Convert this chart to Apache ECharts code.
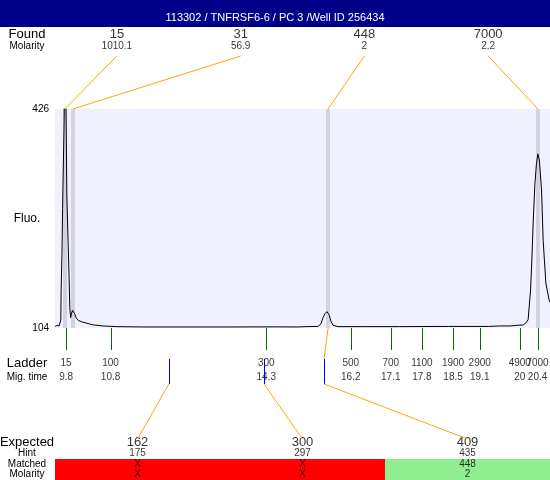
<!DOCTYPE html>
<html>
<head>
<meta charset="utf-8">
<script src="https://cdn.jsdelivr.net/npm/echarts@6/dist/echarts.min.js"></script>
<style>
html, body { margin: 0; padding: 0; background: #fff; }
#chart { width: 550px; height: 480px; }
</style>
</head>
<body>
<div id="chart"></div>
<script>
var titleText = '113302 / TNFRSF6-6 / PC 3 /Well ID 256434';

// electropherogram trace (migration time, fluorescence)
var traceTime = [9.553, 9.598, 9.643, 9.676, 9.681, 9.688, 9.706, 9.721, 9.739, 9.755, 9.772, 9.785,
  9.800, 9.816, 9.845, 9.867, 9.883, 9.901, 9.924, 9.946, 9.969, 9.991, 10.025, 10.076, 10.153,
  10.265, 10.413, 10.631, 10.939, 11.5, 12.5, 13.5, 14.5, 15.0, 15.2, 15.463, 15.530, 15.575,
  15.620, 15.665, 15.710, 15.755, 15.800, 15.912, 16.5, 17.3, 18.4, 19.3, 19.55, 19.777, 19.957,
  20.076, 20.137, 20.188, 20.243, 20.272, 20.301, 20.339, 20.373, 20.407, 20.440, 20.490, 20.526,
  20.587, 20.661, 20.68];
var traceFluo = [106.3, 107.8, 107.0, 106.3, 115.8, 160, 211, 280, 348, 405, 520, 520,
  413, 300, 230, 178, 134, 119, 126, 130, 129, 125, 119, 115, 113,
  111, 108.5, 107, 106, 105.5, 105.5, 105.5, 105.7, 105.5, 106, 106.3, 110, 119,
  125, 128, 124, 114, 108, 106, 106, 106, 106.3, 106.3, 107, 107, 108,
  108.5, 111.4, 116, 160, 204, 258, 314, 344, 360, 351, 307, 233,
  170, 145, 142];

var fluoTicks = [104, 426];

var foundSize = ['15', '31', '448', '7000'];
var foundMolarity = ['1010.1', '56.9', '2', '2.2'];
var foundTime = [9.77, 9.95, 15.69, 20.41];

var ladderSize = ['15', '100', '300', '500', '700', '1100', '1900', '2900', '4900', '7000'];
var ladderTime = [9.8, 10.8, 14.3, 16.2, 17.1, 17.8, 18.5, 19.1, 20, 20.4];

var expectedSize = ['162', '300', '409'];
var hintSize = ['175', '297', '435'];
var hintTime = [12.11, 14.25, 15.6];
var matchedSize = ['X', 'X', '448'];
var matchedMolarity = ['X', 'X', '2'];
var matchedFound = [-1, -1, 2];   // index of the found peak, -1 = none

var font = "'Liberation Sans', Arial, sans-serif";
var tMin = 9.55, tMax = 20.68;
var yMin = fluoTicks[0], yMax = fluoTicks[1];

var chart = echarts.init(document.getElementById('chart'));

function textSeries(xi, yi, xs, row, labels, size) {
  return {
    type: 'scatter', xAxisIndex: xi, yAxisIndex: yi, silent: true, z: 3,
    symbolSize: 1, itemStyle: { color: 'rgba(0,0,0,0)' },
    data: labels.map(function (s, i) { return [xs ? xs[i] : i, row]; }),
    label: {
      show: true, position: 'inside', color: '#000', fontSize: size, fontFamily: font,
      formatter: function (p) { return labels[p.dataIndex]; }
    }
  };
}

function vlines(xi, yi, times, y0, y1, color) {
  return {
    type: 'custom', xAxisIndex: xi, yAxisIndex: yi, silent: true, z: 4,
    data: times.map(function (t) { return [t, y0]; }),
    renderItem: function (params, api) {
      var a = api.coord([api.value(0), y0]);
      var b = api.coord([api.value(0), y1]);
      var x = Math.round(a[0]) + 0.5;
      return { type: 'line', shape: { x1: x, y1: a[1], x2: x, y2: b[1] }, style: { stroke: color, lineWidth: 1 } };
    }
  };
}

function headerAxis(grid, names, bigIndex) {
  return {
    gridIndex: grid, type: 'category', data: names, position: 'left',
    axisLine: { show: false }, axisTick: { show: false }, splitLine: { show: false },
    axisLabel: {
      interval: 0, margin: 28, align: 'center', color: '#000',
      formatter: function (v, i) { return (i === bigIndex ? '{big|' : '{small|') + v + '}'; },
      rich: { big: { fontSize: 13, fontFamily: font }, small: { fontSize: 10, fontFamily: font } }
    }
  };
}

function plainGrid(top, height) {
  return { left: 55, right: 0, top: top, height: height, containLabel: false, outerBoundsMode: 'none' };
}

var titleBar = { type: 'rect', shape: { x: 0, y: 0, width: 550, height: 27 }, style: { fill: '#000088' }, silent: true };

var mainGrid = plainGrid(109, 219);
mainGrid.show = true;
mainGrid.backgroundColor = '#F0F0FF';
mainGrid.borderWidth = 0;

chart.setOption({
  animation: false,
  textStyle: { fontFamily: font },
  title: {
    text: titleText, left: 'center', top: 7,
    textStyle: { color: '#fff', fontSize: 11, fontWeight: 'normal', fontFamily: font }
  },
  graphic: { elements: [titleBar] },
  grid: [mainGrid, plainGrid(28, 24), plainGrid(328, 22), plainGrid(356, 28), plainGrid(437, 43)],
  xAxis: [
    { gridIndex: 0, type: 'value', min: tMin, max: tMax, show: false },
    { gridIndex: 1, type: 'category', data: foundSize, show: false },
    { gridIndex: 2, type: 'value', min: tMin, max: tMax, show: false },
    { gridIndex: 3, type: 'value', min: tMin, max: tMax, show: false },
    { gridIndex: 4, type: 'category', data: expectedSize, show: false }
  ],
  yAxis: [
    {
      gridIndex: 0, type: 'value', min: yMin, max: yMax, interval: yMax - yMin, position: 'left',
      axisLine: { show: false }, axisTick: { show: false }, splitLine: { show: false },
      axisLabel: { color: '#000', fontSize: 10, margin: 6 },
      name: 'Fluo.', nameLocation: 'middle', nameRotate: 0, nameGap: 28, nameMoveOverlap: false,
      nameTextStyle: { color: '#000', fontSize: 12, align: 'center' }
    },
    { gridIndex: 1, type: 'value', min: 0, max: 2, show: false },
    headerAxis(1, ['Molarity', 'Found'], 1),
    { gridIndex: 2, type: 'value', min: 0, max: 1, show: false },
    { gridIndex: 3, type: 'value', min: 0, max: 2, show: false },
    headerAxis(3, ['Mig. time', 'Ladder'], 1),
    { gridIndex: 4, type: 'value', min: 0, max: 4, show: false },
    headerAxis(4, ['Molarity', 'Matched', 'Hint', 'Expected'], 3)
  ],
  series: [
    // found peak bands
    {
      type: 'custom', xAxisIndex: 0, yAxisIndex: 0, silent: true, z: 1,
      data: foundTime.map(function (t) { return [t, yMax]; }),
      renderItem: function (params, api) {
        var top = api.coord([api.value(0), yMax]);
        var bottom = api.coord([api.value(0), yMin]);
        return {
          type: 'rect',
          shape: { x: Math.round(top[0]) - 2, y: top[1], width: 4, height: bottom[1] - top[1] },
          style: { fill: '#D3D3E0' }
        };
      }
    },
    {
      type: 'line', xAxisIndex: 0, yAxisIndex: 0, z: 3, silent: true,
      showSymbol: false, clip: true,
      lineStyle: { color: '#000', width: 1 },
      data: traceTime.map(function (t, i) { return [t, traceFluo[i]]; })
    },
    textSeries(1, 1, null, 1.5, foundSize, 13),
    textSeries(1, 1, null, 0.5, foundMolarity, 10),
    vlines(2, 3, ladderTime, 1, 0, '#007000'),
    textSeries(3, 4, ladderTime, 1.5, ladderSize, 10),
    textSeries(3, 4, ladderTime, 0.5, ladderTime.map(String), 10),
    vlines(3, 4, hintTime, 1.8, 0, '#0000FF'),
    // matched / unmatched band behind the last two rows
    {
      type: 'custom', xAxisIndex: 4, yAxisIndex: 6, silent: true, z: 1,
      data: matchedFound.map(function (k, i) { return [i, 2, k]; }),
      renderItem: function (params, api) {
        var top = api.coord([api.value(0), 2]);
        var bottom = api.coord([api.value(0), 0]);
        var w = api.size([1, 0])[0];
        var x0 = Math.round(top[0] - w / 2), x1 = Math.round(top[0] + w / 2);
        return {
          type: 'rect',
          shape: { x: x0, y: Math.round(top[1]), width: x1 - x0, height: Math.round(bottom[1]) - Math.round(top[1]) },
          style: { fill: api.value(2) < 0 ? '#FF0000' : '#90EE90' }
        };
      }
    },
    textSeries(4, 6, null, 3.5, expectedSize, 13),
    textSeries(4, 6, null, 2.5, hintSize, 10),
    textSeries(4, 6, null, 1.5, matchedSize, 10),
    textSeries(4, 6, null, 0.5, matchedMolarity, 10)
  ]
});

// orange connectors between the tables and the trace
var links = [];
function link(a, b) {
  links.push({ type: 'line', silent: true, z: 5, shape: { x1: a[0], y1: a[1], x2: b[0], y2: b[1] }, style: { stroke: '#FFA500', lineWidth: 1 } });
}
foundTime.forEach(function (t, i) {
  var a = chart.convertToPixel({ xAxisIndex: 1, yAxisIndex: 1 }, [i, 0]);
  var b = chart.convertToPixel({ xAxisIndex: 0, yAxisIndex: 0 }, [t, yMax]);
  link([a[0], a[1] + 4], b);
});
hintTime.forEach(function (t, j) {
  if (matchedFound[j] >= 0) {
    var p = chart.convertToPixel({ xAxisIndex: 0, yAxisIndex: 0 }, [foundTime[matchedFound[j]], yMin]);
    var q = chart.convertToPixel({ xAxisIndex: 3, yAxisIndex: 4 }, [t, 1.8]);
    link(p, q);
  }
  var a = chart.convertToPixel({ xAxisIndex: 3, yAxisIndex: 4 }, [t, 0]);
  var b = chart.convertToPixel({ xAxisIndex: 4, yAxisIndex: 6 }, [j, 4]);
  link(a, [b[0], b[1] + 2]);
});
chart.setOption({ graphic: { elements: [titleBar].concat(links) } });
</script>
</body>
</html>
